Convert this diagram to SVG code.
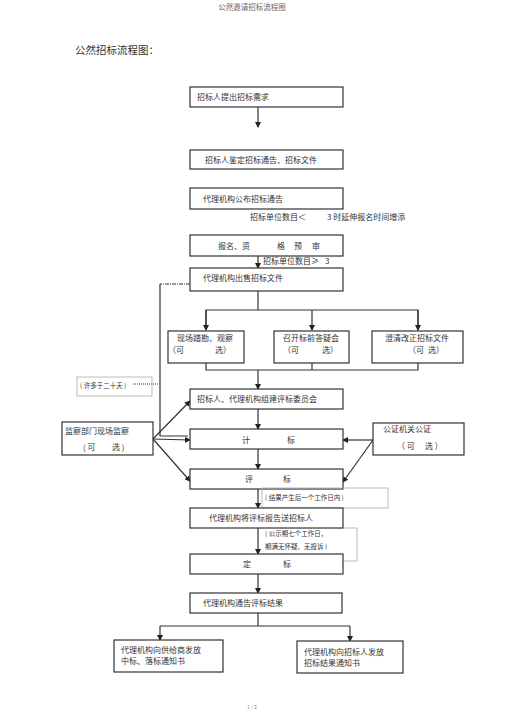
<svg xmlns="http://www.w3.org/2000/svg" width="505" height="715" viewBox="0 0 505 715">
<defs>
<style>
text{font-family:"Noto Sans CJK SC","Liberation Serif",serif;fill:#333;}
.t{font-size:8px;}
.s{font-size:6.5px;}
.box rect{fill:#fff;stroke:#333;stroke-width:1.2;}
.note rect,.note polyline{fill:none;stroke:#aaa;stroke-width:0.8;}
.c line,.c polyline{fill:none;stroke:#333;stroke-width:1.2;}
.g{fill:none;stroke:#999;stroke-width:0.7;}
</style>
<marker id="a" markerWidth="6" markerHeight="6" refX="5" refY="3" orient="auto" markerUnits="userSpaceOnUse">
<path d="M0,0 L6,3 L0,6 z" fill="#222"/>
</marker>
</defs>
<rect width="505" height="715" fill="#fff"/>
<text x="252" y="10" font-size="7.5" text-anchor="middle" style="fill:#666">公然邀请招标流程图</text>
<text x="75" y="54" font-size="10.5">公然招标流程图：</text>

<g id="connectors" class="c">
<line x1="258" y1="107" x2="258" y2="127" marker-end="url(#a)"/>
<line x1="258" y1="256" x2="258" y2="268" marker-end="url(#a)"/>
<polyline points="258,291 258,310"/>
<polyline points="206,329 206,310 418,310 418,329"/>
<line x1="206" y1="310" x2="206" y2="330" marker-end="url(#a)"/>
<line x1="312" y1="310" x2="312" y2="330" marker-end="url(#a)"/>
<line x1="418" y1="310" x2="418" y2="330" marker-end="url(#a)"/>
<polyline points="206,363 206,370 418,370 418,363"/>
<line x1="312" y1="363" x2="312" y2="370"/>
<line x1="258" y1="370" x2="258" y2="389" marker-end="url(#a)"/>
<line x1="258" y1="409" x2="258" y2="429" marker-end="url(#a)"/>
<line x1="258" y1="449" x2="258" y2="469" marker-end="url(#a)"/>
<line x1="258" y1="489" x2="258" y2="508" marker-end="url(#a)"/>
<line x1="258" y1="528" x2="258" y2="554" marker-end="url(#a)"/>
<line x1="258" y1="574" x2="258" y2="593" marker-end="url(#a)"/>
<polyline points="258,613 258,626"/>
<polyline points="160,626 350,626"/>
<line x1="160" y1="626" x2="160" y2="640" marker-end="url(#a)"/>
<line x1="350" y1="626" x2="350" y2="641" marker-end="url(#a)"/>
<line x1="153" y1="439" x2="190" y2="401" marker-end="url(#a)"/>
<line x1="153" y1="439" x2="190" y2="440" marker-end="url(#a)"/>
<line x1="153" y1="439" x2="190" y2="481" marker-end="url(#a)"/>
<line x1="373" y1="440" x2="343" y2="440" marker-end="url(#a)"/>
<line x1="373" y1="440" x2="343" y2="482" marker-end="url(#a)"/>
<line class="g" x1="190" y1="284" x2="160" y2="284" stroke-dasharray="4,1,1,1"/>
<polyline class="g" points="160,284 160,436 188,436"/>
<line class="g" x1="133" y1="384" x2="159" y2="384" stroke-dasharray="1,1"/>
</g>

<g id="n1" class="box"><rect x="190" y="87" width="153" height="20"/><text class="t" x="197" y="100">招标人提出招标需求</text></g>
<g id="n2" class="box"><rect x="190" y="150" width="153" height="19"/><text class="t" x="205" y="162.5">招标人鉴定招标通告、招标文件</text></g>
<g id="n3" class="box"><rect x="190" y="188" width="153" height="21"/><text class="t" x="203" y="201.5">代理机构公布招标通告</text></g>
<text class="t" x="250" y="220">招标单位数目＜</text>
<text class="t" x="327" y="220">3 时延伸报名时间增添</text>
<g id="n4" class="box"><rect x="190" y="235" width="153" height="21"/><text class="t" y="248.5"><tspan x="218">报名、资</tspan><tspan x="277">格</tspan><tspan x="294">预</tspan><tspan x="312">审</tspan></text></g>
<text class="t" x="263" y="264">招标单位数目≥</text>
<text class="t" x="325" y="264">3</text>
<g id="n5" class="box"><rect x="190" y="268" width="153" height="23"/><text class="t" x="203" y="281">代理机构出售招标文件</text></g>

<g id="nA" class="box"><rect x="168" y="331" width="76" height="32"/><text class="t" x="177" y="341">现场踏勘、观察</text><text class="t" y="353"><tspan x="168">（可</tspan><tspan x="215">选）</tspan></text></g>
<g id="nB" class="box"><rect x="274" y="331" width="75" height="32"/><text class="t" x="283" y="341">召开标前答疑会</text><text class="t" y="353"><tspan x="283">（可</tspan><tspan x="322">选）</tspan></text></g>
<g id="nC" class="box"><rect x="372" y="331" width="91" height="32"/><text class="t" x="385" y="341">澄清改正招标文件</text><text class="t" y="353"><tspan x="408">（可</tspan><tspan x="428">选）</tspan></text></g>

<g id="note20" class="note"><rect x="77" y="377" width="75" height="19"/><text class="s" x="80" y="388">( 许多于二十天 )</text></g>

<g id="n6" class="box"><rect x="190" y="389" width="153" height="20"/><text class="t" x="197" y="402">招标人、代理机构组建评标委员会</text></g>
<g id="n7" class="box"><rect x="190" y="429" width="153" height="20"/><text class="t" y="442.5"><tspan x="242">计</tspan><tspan x="287">标</tspan></text></g>
<g id="n8" class="box"><rect x="190" y="469" width="153" height="20"/><text class="t" y="482"><tspan x="245">评</tspan><tspan x="283">标</tspan></text></g>

<g id="nL" class="box"><rect x="62" y="422" width="91" height="33"/><text class="t" x="65" y="434">监察部门现场监察</text><text class="t" y="450"><tspan x="83">(  可</tspan><tspan x="112">选 )</tspan></text></g>
<g id="nR" class="box"><rect x="373" y="423" width="91" height="32"/><text class="t" x="383" y="432">公证机关公证</text><text class="t" y="449"><tspan x="397">（ 可</tspan><tspan x="425">选 ）</tspan></text></g>

<g id="noteResult" class="note"><rect x="262" y="488" width="126" height="20"/><text class="s" x="265" y="500">( 结果产生后一个工作日内    )</text></g>

<g id="n9" class="box"><rect x="190" y="508" width="153" height="20"/><text class="t" x="209" y="521">代理机构将评标报告送招标人</text></g>

<g id="notePub" class="note"><polyline points="343,528 357,528 357,561 343,561"/><text class="s" x="265" y="536">( 公示期七个工作日，</text><text class="s" x="265" y="549">期满无怀疑、无投诉    )</text></g>

<g id="n10" class="box"><rect x="190" y="554" width="153" height="20"/><text class="t" y="567"><tspan x="243">定</tspan><tspan x="283">标</tspan></text></g>
<g id="n11" class="box"><rect x="190" y="593" width="152" height="20"/><text class="t" x="203" y="606">代理机构通告评标结果</text></g>
<g id="n12" class="box"><rect x="114" y="640" width="109" height="32"/><text class="t" x="121" y="653">代理机构向供给商发放</text><text class="t" x="121" y="664">中标、落标通知书</text></g>
<g id="n13" class="box"><rect x="297" y="641" width="106" height="32"/><text class="t" x="304" y="655">代理机构向招标人发放</text><text class="t" x="304" y="666">招标结果通知书</text></g>

<text x="252" y="709" font-size="5" text-anchor="middle" style="fill:#888">1 / 2</text>
</svg>
